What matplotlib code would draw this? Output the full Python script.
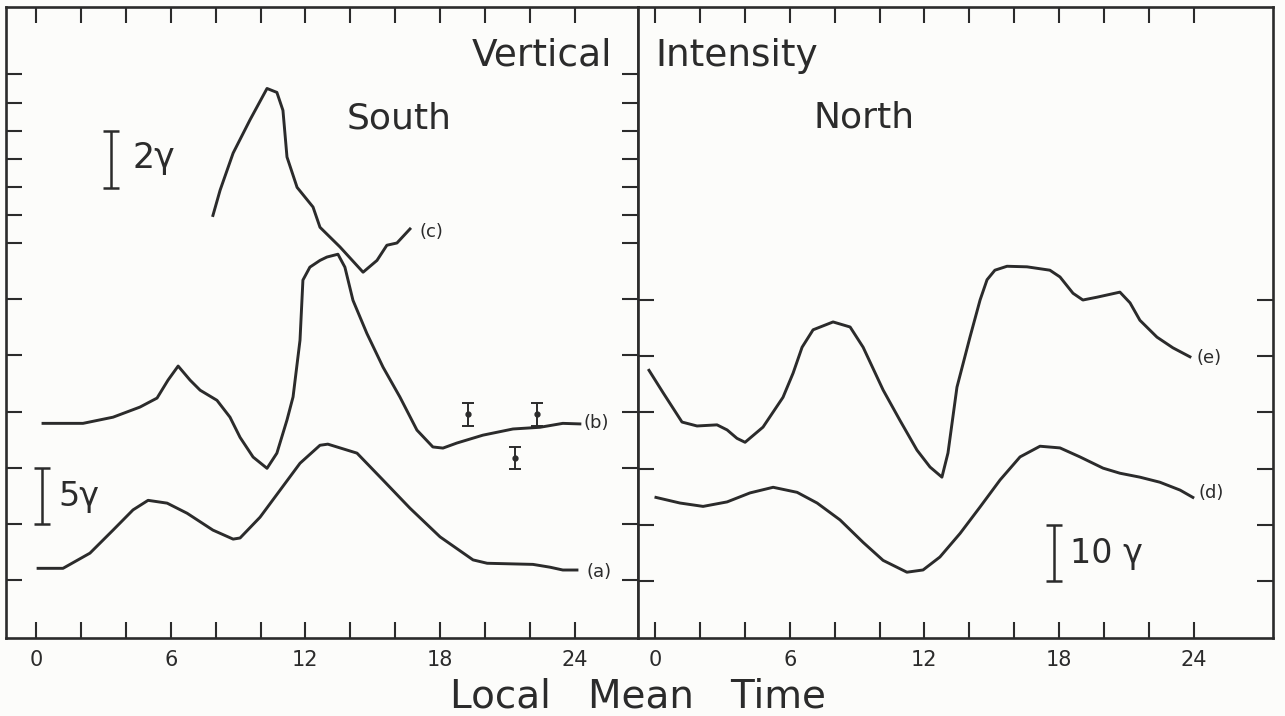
import matplotlib
matplotlib.use('Agg')
import matplotlib.pyplot as plt
from matplotlib.ticker import FixedLocator, FuncFormatter

ink = '#2b2b2b'
paper = '#fcfcfa'

# traces: local mean time (h) and trace position
# (in units of the panel tick spacing)
a_t = [0.09, 1.2, 2.4, 3.43, 4.32, 4.99, 5.84, 6.73, 7.88, 8.78, 9.09, 9.98,
       10.87, 11.76, 12.65, 13.0, 14.3, 15.46, 16.66, 18.0, 19.47, 20.1,
       22.14, 22.9, 23.47, 24.1]
a_v = [1.21, 1.21, 1.48, 1.89, 2.25, 2.42, 2.37, 2.19, 1.89, 1.73, 1.75, 2.12,
       2.60, 3.08, 3.40, 3.42, 3.26, 2.78, 2.28, 1.77, 1.36, 1.30,
       1.28, 1.23, 1.18, 1.18]

b_t = [0.31, 2.09, 3.43, 4.63, 5.39, 5.88, 6.33, 6.86, 7.31, 8.06, 8.64, 9.09,
       9.67, 10.29, 10.73, 11.18, 11.45, 11.76, 11.89, 12.2, 12.65, 12.96,
       13.45, 13.76, 14.12, 14.74, 15.46, 16.21, 16.97, 17.68, 18.13, 18.75,
       19.91, 21.25, 22.45, 23.47, 24.23]
b_v = [3.79, 3.79, 3.90, 4.08, 4.24, 4.56, 4.81, 4.56, 4.38, 4.20, 3.90, 3.54,
       3.19, 2.99, 3.26, 3.85, 4.26, 5.27, 6.34, 6.57, 6.69, 6.75,
       6.80, 6.57, 5.98, 5.39, 4.79, 4.26, 3.67, 3.37, 3.35, 3.44,
       3.58, 3.69, 3.72, 3.79, 3.78]

c_t = [7.88, 8.2, 8.78, 9.53, 10.29, 10.73, 11.0, 11.18, 11.63, 12.34, 12.65,
       13.54, 14.57, 15.19, 15.63, 16.08, 16.66]
c_v = [7.49, 7.94, 8.60, 9.19, 9.75, 9.68, 9.36, 8.53, 7.99, 7.64, 7.28,
       6.93, 6.48, 6.69, 6.96, 7.00, 7.25]

d_t = [0.04, 1.11, 2.14, 3.21, 4.23, 5.26, 6.33, 7.22, 8.24, 9.27, 10.16,
       11.22, 11.94, 12.69, 13.59, 14.48, 15.37, 16.26, 17.15, 18.04, 18.93,
       19.96, 20.71, 21.6, 22.49, 23.39, 23.96]
d_v = [2.49, 2.39, 2.33, 2.41, 2.57, 2.67, 2.58, 2.39, 2.09, 1.69, 1.37,
       1.16, 1.20, 1.43, 1.85, 2.32, 2.80, 3.21, 3.40, 3.37, 3.21,
       3.01, 2.92, 2.85, 2.76, 2.62, 2.49]

e_t = [-0.27, 0.36, 1.2, 1.87, 2.76, 3.21, 3.65, 4.01, 4.81, 5.70, 6.15, 6.55,
       7.04, 7.93, 8.69, 9.27, 10.16, 10.91, 11.67, 12.25, 12.78, 13.05,
       13.45, 14.03, 14.48, 14.79, 15.14, 15.68, 16.57, 17.59, 18.04, 18.62,
       19.06, 19.69, 20.71, 21.16, 21.6, 22.36, 23.07, 23.83]
e_v = [4.75, 4.35, 3.83, 3.76, 3.78, 3.69, 3.54, 3.47, 3.74, 4.27, 4.70, 5.16,
       5.47, 5.61, 5.52, 5.16, 4.40, 3.86, 3.33, 3.03, 2.85, 3.28,
       4.45, 5.34, 6.00, 6.36, 6.53, 6.60, 6.59, 6.53, 6.41, 6.12,
       6.00, 6.05, 6.14, 5.95, 5.64, 5.34, 5.15, 4.99]

# error bars on trace (b)
err_t = [19.24, 21.34, 22.32]
err_v = [3.95, 3.17, 3.95]
err_e = [0.21, 0.20, 0.21]

hour_ticks = list(range(0, 25, 2))
left_yticks = [1, 2, 3, 4, 5, 6, 7, 7.5, 8, 8.5, 9, 9.5, 10]
right_yticks = [1, 2, 3, 4, 5, 6]

plt.rcParams['font.family'] = 'DejaVu Sans'

fig = plt.figure(figsize=(12.85, 7.16), dpi=100, facecolor=paper)
axL = fig.add_axes([6 / 1285, 78 / 716, 632 / 1285, 631 / 716])
axR = fig.add_axes([638 / 1285, 78 / 716, 635 / 1285, 631 / 716])


def style(ax, yticks):
    ax.set_facecolor(paper)
    for s in ax.spines.values():
        s.set_color(ink)
        s.set_linewidth(1.9)
    ax.xaxis.set_major_locator(FixedLocator(hour_ticks))
    ax.xaxis.set_major_formatter(
        FuncFormatter(lambda v, p: '%d' % v if v % 6 == 0 else ''))
    ax.yaxis.set_major_locator(FixedLocator(yticks))
    ax.set_yticklabels([])
    ax.tick_params(direction='in', length=11.5, width=1.5, color=ink,
                   top=True, right=True, labelsize=15, labelcolor=ink, pad=9)


lw = 2.1
axL.plot(a_t, a_v, color=ink, lw=lw, solid_joinstyle='round')
axL.plot(b_t, b_v, color=ink, lw=lw, solid_joinstyle='round')
axL.plot(c_t, c_v, color=ink, lw=lw, solid_joinstyle='round')
axL.errorbar(err_t, err_v, yerr=err_e, fmt='o', ms=3.5, color=ink,
             elinewidth=1.4, capsize=4, capthick=1.4)
axL.set_xlim(-1.34, 26.82)
axL.set_ylim(-0.03, 11.2)
style(axL, left_yticks)

axR.plot(d_t, d_v, color=ink, lw=lw, solid_joinstyle='round')
axR.plot(e_t, e_v, color=ink, lw=lw, solid_joinstyle='round')
axR.set_xlim(-0.76, 27.53)
axR.set_ylim(-0.01, 11.21)
style(axR, right_yticks)

# scale bars
axL.errorbar([3.34], [8.49], yerr=[0.505], fmt='none', color=ink,
             elinewidth=1.8, capsize=5.5, capthick=1.8)
axL.errorbar([0.27], [2.5], yerr=[0.5], fmt='none', color=ink,
             elinewidth=1.8, capsize=5.5, capthick=1.8)
axR.errorbar([17.77], [1.5], yerr=[0.5], fmt='none', color=ink,
             elinewidth=1.8, capsize=5.5, capthick=1.8)
axL.text(4.28, 8.51, '2γ', fontsize=25, color=ink, va='center')
axL.text(0.98, 2.48, '5γ', fontsize=24, color=ink, va='center')
axR.text(18.49, 1.5, '10 γ', fontsize=24, color=ink, va='center')

# curve labels
lab = dict(fontsize=13, color=ink, va='center')
axL.text(17.1, 7.19, '(c)', **lab)
axL.text(24.37, 3.79, '(b)', **lab)
axL.text(24.54, 1.14, '(a)', **lab)
axR.text(24.14, 4.97, '(e)', **lab)
axR.text(24.19, 2.57, '(d)', **lab)

# titles
axL.text(25.66, 10.16, 'Vertical', fontsize=27, color=ink, ha='right')
axR.text(0.0, 10.16, 'Intensity', fontsize=27, color=ink, ha='left')
axL.text(16.17, 9.04, 'South', fontsize=26, color=ink, ha='center')
axR.text(9.31, 9.06, 'North', fontsize=26, color=ink, ha='center')

fig.text(638 / 1285, 8 / 716, 'Local   Mean   Time', fontsize=28, color=ink,
         ha='center', va='baseline')

fig.savefig('out.png', dpi=100, facecolor=paper)
